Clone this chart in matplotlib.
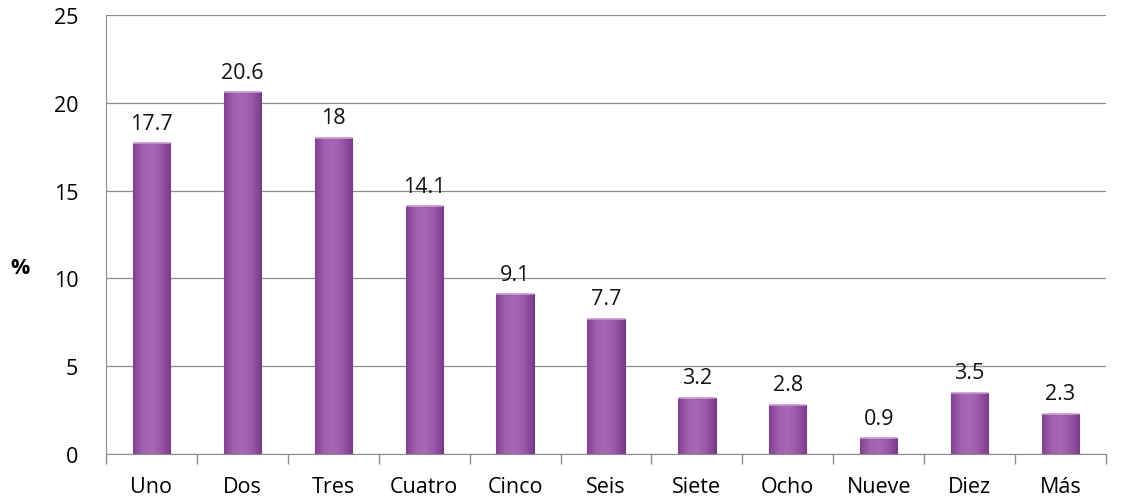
import numpy as np
import matplotlib
matplotlib.use("Agg")
import matplotlib.pyplot as plt
from matplotlib.colors import LinearSegmentedColormap

plt.rcParams['font.family'] = ['Open Sans', 'DejaVu Sans']

# =========== data ===========
categorias = ["Uno", "Dos", "Tres", "Cuatro", "Cinco", "Seis", "Siete", "Ocho", "Nueve", "Diez", "Más"]
porcentajes = [17.7, 20.6, 18, 14.1, 9.1, 7.7, 3.2, 2.8, 0.9, 3.5, 2.3]
etiquetas = ["17.7", "20.6", "18", "14.1", "9.1", "7.7", "3.2", "2.8", "0.9", "3.5", "2.3"]

FS = 15.5

fig = plt.figure(figsize=(11.24, 5.02), dpi=100)
ax = fig.add_axes([0.0943, 0.0936, 0.8897, 0.8745])

x = np.arange(len(categorias))
bars = ax.bar(x, porcentajes, width=0.41, color="#9B57AA", edgecolor="#6E3A7E",
              linewidth=0.8, zorder=3)

# horizontal gradient on each bar (lighter center)
cmap = LinearSegmentedColormap.from_list("morado", ["#80418F", "#A261B0", "#A868B6", "#9A56A9", "#7B3B8B"])
grad = np.linspace(0, 1, 64).reshape(1, -1)
for b in bars:
    x0, w, h = b.get_x(), b.get_width(), b.get_height()
    im = ax.imshow(grad, cmap=cmap, aspect="auto", extent=[x0, x0 + w, 0, h], zorder=3.5)
    im.set_clip_path(b)
    # top cap highlight
    ax.plot([x0, x0 + w], [h, h], color="#C99AD3", lw=1.2, zorder=4, solid_capstyle="butt")

for xi, v, t in zip(x, porcentajes, etiquetas):
    ax.text(xi, v + 0.55, t, ha="center", va="bottom", fontsize=FS, color="#111111")

ax.set_xlim(-0.5, len(categorias) - 0.5)
ax.set_ylim(0, 25)
ax.set_yticks(range(0, 26, 5))
ax.set_xticks(x)
ax.set_xticklabels(categorias, fontsize=FS)
ax.tick_params(axis="y", length=0, labelsize=FS, pad=20)
ax.tick_params(axis="x", length=0, pad=16)

# category boundary ticks below the axis
ax.set_xticks(np.arange(-0.5, len(categorias), 1), minor=True)
ax.tick_params(axis="x", which="minor", length=7, color="#8C8C8C", width=1)

ax.grid(axis="y", color="#8C8C8C", lw=0.9, zorder=0)
for s in ["top", "right"]:
    ax.spines[s].set_visible(False)
ax.spines["left"].set_color("#8C8C8C")
ax.spines["bottom"].set_color("#8C8C8C")

fig.text(0.009, 0.465, "%", fontsize=FS, fontweight="bold", ha="left", va="center")

fig.savefig("out.png", dpi=100)
